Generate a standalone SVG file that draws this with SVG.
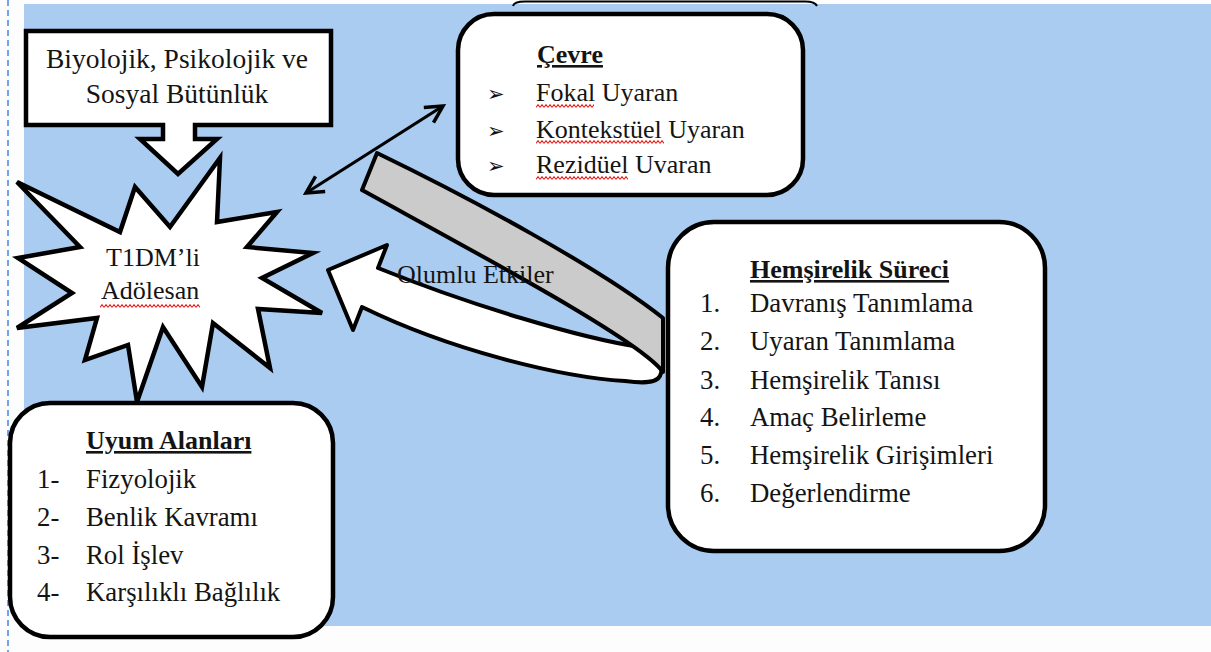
<svg xmlns="http://www.w3.org/2000/svg" width="1211" height="652" viewBox="0 0 1211 652">
<defs>
<style>
.t{font-family:"Liberation Serif","Times New Roman",serif;font-size:26px;fill:#141414}
.w{font-size:26.8px}
.b{font-weight:bold;text-decoration:underline}
.blt{font-family:"DejaVu Sans",sans-serif;font-size:21px;font-weight:bold;fill:#111}
.shape{stroke:#000;stroke-width:4.5;stroke-linejoin:miter}
.box{fill:#fff;stroke:#000;stroke-width:4.5}
</style>
<pattern id="squig" width="4" height="4" patternUnits="userSpaceOnUse">
<path d="M0,3.3 L2,0.7 L4,3.3" fill="none" stroke="#e0201c" stroke-width="1.1"/>
</pattern>
<marker id="ah" viewBox="0 0 22 22" refX="19" refY="11" markerWidth="22" markerHeight="22" orient="auto-start-reverse" markerUnits="userSpaceOnUse">
<path d="M2,2 L19,11 L2,20" fill="none" stroke="#000" stroke-width="3.5" stroke-linejoin="miter"/>
</marker>
</defs>
<rect width="1211" height="652" fill="#fdfdfd"/>
<rect x="24" y="4" width="1187" height="622" fill="#a9ccf0"/>
<line x1="8" y1="0" x2="8" y2="652" stroke="#6fa3ec" stroke-width="2" stroke-dasharray="6,4"/>
<path d="M513,6 Q514,1.5 525,1.5 H805 Q815,1.5 817,6" fill="none" stroke="#000" stroke-width="2"/>

<g id="connectors">
<line x1="306" y1="193" x2="443" y2="106" stroke="#000" stroke-width="3.2" marker-start="url(#ah)" marker-end="url(#ah)"/>
<path d="M328,270 L387,245 L378,268 C470,305 580,338 640,347 C660,352 664,368 660,376 C656,384 640,383 625,381 C560,377 450,350 362,307 L353,330 Z" fill="#fff" stroke="#000" stroke-width="4" stroke-linejoin="round"/>
<path d="M377,153 C470,198 600,268 663,318 L663,372 C640,340 480,255 362,190 Z" fill="#cbcbcb" stroke="#000" stroke-width="4" stroke-linejoin="round"/>
<text class="t" x="397" y="283">Olumlu Etkiler</text>
</g>

<g id="bütünlük">
<path class="shape" fill="#fff" d="M26,31 H331 V125 H195 V139 H217 L178,174 L140,139 H163 V125 H26 Z"/>
<text class="t" style="font-size:27.5px" x="177" y="68" text-anchor="middle">Biyolojik, Psikolojik ve</text>
<text class="t" style="font-size:27.5px" x="177" y="103" text-anchor="middle">Sosyal Bütünlük</text>
</g>

<g id="adolesan">
<path class="shape" fill="#fff" d="M17,182 L120,232 L135,187 L170,227 L220,158 L217,222 L277,212 L247,247 L313,253 L262,278 L322,313 L258,309 L270,368 L213,323 L202,387 L163,327 L137,402 L128,345 L85,360 L97,318 L17,328 L72,293 L18,258 L80,247 Z"/>
<text class="t" x="106" y="266">T1DM’li</text>
<text class="t" x="101" y="299">Adölesan</text>
<rect x="100" y="304" width="100" height="4" fill="url(#squig)"/>
</g>

<g id="cevre">
<rect class="box" x="458" y="14" width="345" height="181" rx="36"/>
<text class="t b" x="537" y="63">Çevre</text>
<text class="blt" x="487" y="101">➢</text>
<text class="blt" x="487" y="138">➢</text>
<text class="blt" x="487" y="173">➢</text>
<text class="t" x="536" y="101">Fokal Uyaran</text>
<text class="t" x="536" y="138">Kontekstüel Uyaran</text>
<text class="t" x="536" y="173">Rezidüel Uvaran</text>
<rect x="536" y="104" width="58" height="4" fill="url(#squig)"/>
<rect x="536" y="140" width="128" height="4" fill="url(#squig)"/>
<rect x="536" y="176" width="92" height="4" fill="url(#squig)"/>
</g>

<g id="hemsirelik">
<rect class="box" x="668" y="222" width="377" height="329" rx="46"/>
<text class="t b" x="750" y="278">Hemşirelik Süreci</text>
<text class="t w" x="700" y="312">1.</text><text class="t w" x="750" y="312">Davranış Tanımlama</text>
<text class="t w" x="700" y="350">2.</text><text class="t w" x="750" y="350">Uyaran Tanımlama</text>
<text class="t w" x="700" y="389">3.</text><text class="t w" x="750" y="389">Hemşirelik Tanısı</text>
<text class="t w" x="700" y="426">4.</text><text class="t w" x="750" y="426">Amaç Belirleme</text>
<text class="t w" x="700" y="464">5.</text><text class="t w" x="750" y="464">Hemşirelik Girişimleri</text>
<text class="t w" x="700" y="502">6.</text><text class="t w" x="750" y="502">Değerlendirme</text>
</g>

<g id="uyum">
<rect class="box" x="10" y="403" width="323" height="234" rx="40"/>
<text class="t b" x="86" y="449">Uyum Alanları</text>
<text class="t w" x="37" y="488">1-</text><text class="t w" x="86" y="488">Fizyolojik</text>
<text class="t w" x="37" y="526">2-</text><text class="t w" x="86" y="526">Benlik Kavramı</text>
<text class="t w" x="37" y="564">3-</text><text class="t w" x="86" y="564">Rol İşlev</text>
<text class="t w" x="37" y="601">4-</text><text class="t w" x="86" y="601">Karşılıklı Bağlılık</text>
</g>
</svg>
